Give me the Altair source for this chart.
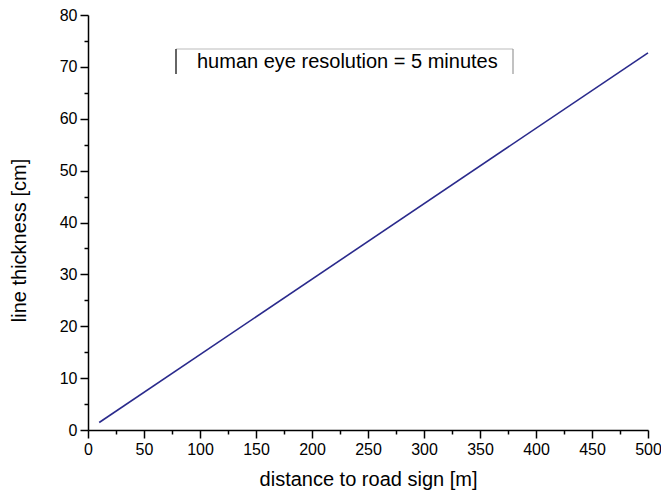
import altair as alt
import pandas as pd

# Data: straight line from (10 m, 1.45 cm) to (500 m, 72.7 cm)
distance_m = [10, 500]
thickness_cm = [1.45, 72.7]
legend_text = ["human eye resolution = 5 minutes"]

x_ticks = list(range(0, 501, 25))
y_ticks = list(range(0, 81, 5))

df = pd.DataFrame({"distance": distance_m, "thickness": thickness_cm})

W, H = 560, 415
FONT = "Liberation Sans"

x_scale = alt.Scale(domain=[0, 500], nice=False, zero=False)
y_scale = alt.Scale(domain=[0, 80], nice=False, zero=False)

x_axis = alt.Axis(
    values=x_ticks,
    labelExpr="datum.value % 50 === 0 ? datum.label : ''",
    tickSize={"condition": {"test": "datum.value % 50 === 0", "value": 8}, "value": 4},
    grid=False,
    domainColor="black",
    domainWidth=1.5,
    tickColor="black",
    tickWidth=1.5,
    labelFont=FONT,
    labelFontSize=16,
    labelColor="black",
    labelPadding=3,
    labelFlush=False,
    title="distance to road sign [m]",
    titleFont=FONT,
    titleFontSize=20,
    titleFontWeight="normal",
    titleColor="black",
    titleY=55,
    titleBaseline="alphabetic",
)

y_axis = alt.Axis(
    values=y_ticks,
    labelExpr="datum.value % 10 === 0 ? datum.label : ''",
    tickSize={"condition": {"test": "datum.value % 10 === 0", "value": 8}, "value": 4},
    grid=False,
    domainColor="black",
    domainWidth=1.5,
    tickColor="black",
    tickWidth=1.5,
    labelFont=FONT,
    labelFontSize=16,
    labelColor="black",
    labelPadding=3,
    labelFlush=False,
    title="line thickness [cm]",
    titleFont=FONT,
    titleFontSize=20,
    titleFontWeight="normal",
    titleColor="black",
    titleAngle=-90,
    titleX=-69,
    titleY=225,
    titleAlign="center",
    titleBaseline="middle",
)

line = alt.Chart(df).mark_line(color="#2a2a8c", strokeWidth=1.6).encode(
    x=alt.X("distance:Q", scale=x_scale, axis=x_axis),
    y=alt.Y("thickness:Q", scale=y_scale, axis=y_axis),
)

leg = pd.DataFrame({"text": legend_text})

box_top = alt.Chart(leg).mark_rule(color="#bbbbbb", strokeWidth=1).encode(
    x=alt.value(88), x2=alt.value(425), y=alt.value(34)
)
box_left = alt.Chart(leg).mark_rule(color="#333333", strokeWidth=1.5).encode(
    x=alt.value(88), y=alt.value(34), y2=alt.value(59)
)
box_right = alt.Chart(leg).mark_rule(color="#999999", strokeWidth=1.2).encode(
    x=alt.value(425), y=alt.value(34), y2=alt.value(59)
)
legend_label = alt.Chart(leg).mark_text(
    font=FONT, fontSize=20, color="black", align="left", baseline="middle"
).encode(text="text:N", x=alt.value(109), y=alt.value(47))

chart = alt.layer(line, box_top, box_left, box_right, legend_label).properties(
    width=W,
    height=H,
    padding={"left": 80, "top": 7, "right": 13, "bottom": 60},
    autosize=alt.AutoSizeParams(type="none"),
    background="white",
).configure_view(stroke=None)

chart.save("out.html", embed_options={"renderer": "svg", "actions": False})
